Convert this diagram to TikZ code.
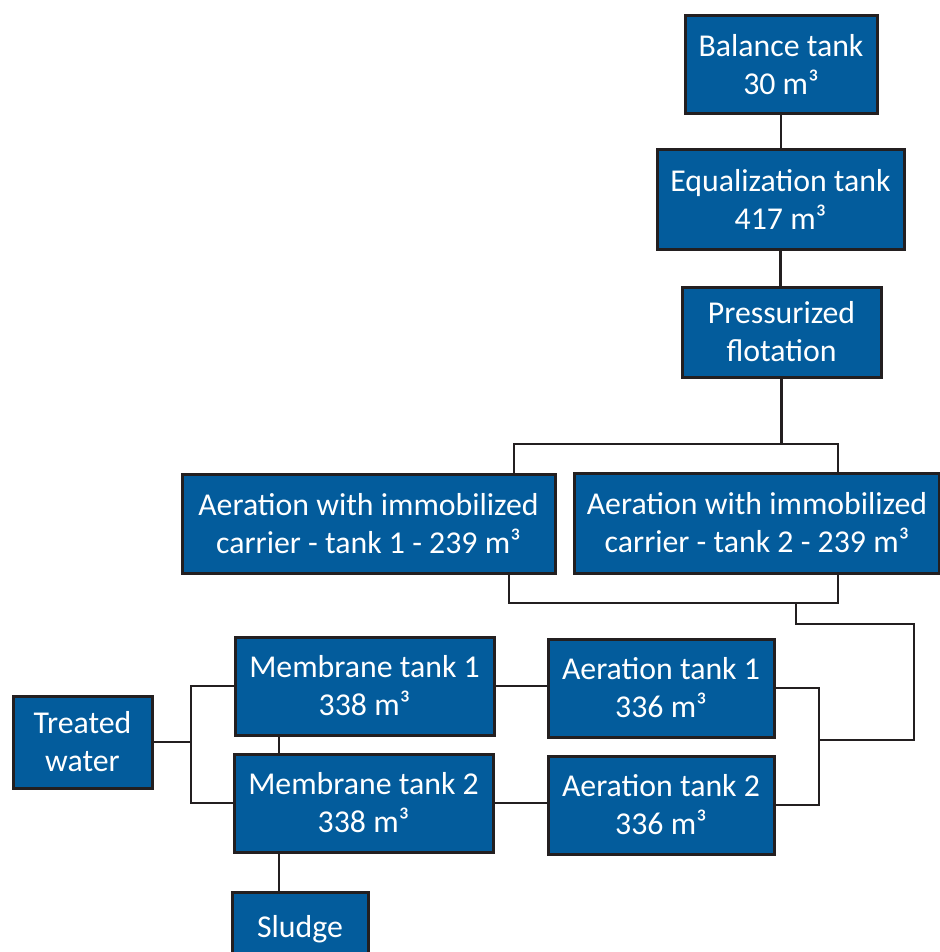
\documentclass[tikz,border=0pt]{standalone}
\usepackage{fontspec}
\setmainfont{Carlito}
\definecolor{boxblue}{HTML}{035C9C}
\definecolor{edge}{HTML}{231F20}
\begin{document}
\begin{tikzpicture}[x=1pt,y=1pt,
  box/.style={draw=edge, line width=3pt, fill=boxblue, text=white, align=center,
    font=\fontsize{31.8}{38}\selectfont, inner sep=0pt, anchor=center,
    execute at begin node={\rule{0pt}{29pt}}},
  conn/.style={draw=edge, line width=2.5pt}]
\useasboundingbox (0,0) rectangle (939,-952);
% nodes
\node[box, minimum width=192, minimum height=98] (bal) at (781,-65) {Balance tank\\30 m³};
\node[box, minimum width=247, minimum height=99] (eq) at (780.5,-199.5) {Equalization tank\\417 m³};
\node[box, minimum width=199, minimum height=90] (pf) at (781.5,-332) {Pressurized\\flotation};
\node[box, minimum width=373, minimum height=99] (a1) at (368.5,-523.5) {Aeration with immobilized\\carrier - tank 1 - 239 m³};
\node[box, minimum width=365, minimum height=100] (a2) at (757,-523) {Aeration with immobilized\\carrier - tank 2 - 239 m³};
\node[box, minimum width=259, minimum height=98] (m1) at (364.5,-686) {Membrane tank 1\\338 m³};
\node[box, minimum width=259, minimum height=98] (m2) at (363.5,-803) {Membrane tank 2\\338 m³};
\node[box, minimum width=226, minimum height=98] (at1) at (661,-688) {Aeration tank 1\\336 m³};
\node[box, minimum width=226, minimum height=98] (at2) at (661,-805) {Aeration tank 2\\336 m³};
\node[box, minimum width=139, minimum height=92] (tw) at (82.5,-742) {Treated\\water};
\node[box, minimum width=136, minimum height=80, text depth=0pt] (sl) at (300,-932) {\raisebox{12pt}{Sludge}};
% coordinates
\coordinate (tA) at (514,-444);
\coordinate (tB) at (838,-444);
\coordinate (bA) at (509,-603);
\coordinate (bB) at (838,-603);
\coordinate (bC) at (796,-603);
\coordinate (rr) at (914,-624);
\coordinate (rJ) at (819,-740);
\coordinate (mx) at (279,0);
\coordinate (lJ) at (191,-742);
% connectors
\draw[conn] (bal.south) -- (bal.south |- eq.north);
\draw[conn] (eq.south) -- (eq.south |- pf.north);
\draw[conn] (pf.south) -- (pf.south |- tA);
\draw[conn] (tA |- a1.north) -- (tA) -- (tB) -- (tB |- a2.north);
\draw[conn] (bA |- a1.south) -- (bA) -- (bB) -- (bB |- a2.south);
\draw[conn] (bC) -- (bC |- rr) -- (rr) |- (rJ);
\draw[conn] (at1.east) -| (rJ) |- (at2.east);
\draw[conn] (m1.east) -- (at1.west |- m1.east);
\draw[conn] (m2.east) -- (at2.west |- m2.east);
\draw[conn] (mx |- m1.south) -- (mx |- m2.north);
\draw[conn] (mx |- m2.south) -- (mx |- sl.north);
\draw[conn] (tw.east) -- (lJ);
\draw[conn] (m1.west) -| (lJ) |- (m2.west);
\end{tikzpicture}
\end{document}
